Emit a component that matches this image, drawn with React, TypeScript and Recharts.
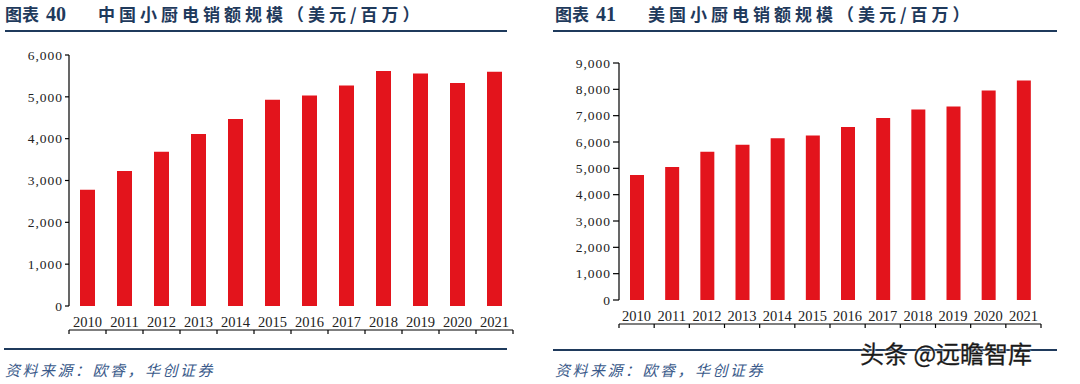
import React from 'react';
import { BarChart, Bar, XAxis, YAxis } from 'recharts';

const years = ['2010', '2011', '2012', '2013', '2014', '2015', '2016', '2017', '2018', '2019', '2020', '2021'];
const chinaSales = [2780, 3230, 3690, 4110, 4470, 4930, 5030, 5270, 5620, 5560, 5330, 5600];
const usSales = [4750, 5050, 5630, 5900, 6140, 6250, 6570, 6910, 7230, 7350, 7960, 8340];
const chinaTicks = [0, 1000, 2000, 3000, 4000, 5000, 6000];
const usTicks = [0, 1000, 2000, 3000, 4000, 5000, 6000, 7000, 8000, 9000];
const edgeTicks = [0, 1, 2, 3, 4, 5, 6, 7, 8, 9, 10, 11, 12];

const chinaTitle = { label: '图表', num: '40', text: '中国小厨电销额规模（美元/百万）' };
const usTitle = { label: '图表', num: '41', text: '美国小厨电销额规模（美元/百万）' };
const sourceText = '资料来源：欧睿，华创证券';
const watermark = '头条 @远瞻智库';

const chinaData = years.map((y, i) => ({ year: y, value: chinaSales[i] }));
const usData = years.map((y, i) => ({ year: y, value: usSales[i] }));

const fmt = (v: number) => v.toLocaleString('en-US');

const SERIF = '"Liberation Serif", "Times New Roman", serif';
const CJK = '"Noto Sans CJK SC", sans-serif';
const NAVY = '#1f3a5c';
const RED = '#e3141c';

const YearTick = (p: any) => (
  <text x={p.x} y={p.y + 21} textAnchor="middle" fontFamily={SERIF} fontSize={14.5} fill="#222">
    {p.payload.value}
  </text>
);

function Panel(props: any) {
  const { data, ticks, max, left, margin, barSize, ySize } = props;
  return (
    <div style={{ position: 'absolute', left, top: 0 }}>
      <BarChart width={540} height={384} data={data} margin={margin} barCategoryGap={0}>
        <XAxis
          xAxisId="edges"
          type="number"
          dataKey="idx"
          domain={[0, 12]}
          ticks={edgeTicks}
          interval={0}
          height={1}
          tick={() => null}
          tickSize={4}
          tickLine={{ stroke: '#000', strokeWidth: 1.2 }}
          axisLine={{ stroke: '#000', strokeWidth: 1.2 }}
          allowDataOverflow
        />
        <XAxis
          xAxisId="cat"
          dataKey="year"
          interval={0}
          height={24}
          axisLine={false}
          tickLine={false}
          tickSize={0}
          tickMargin={0}
          tick={YearTick}
        />
        <YAxis
          width={60}
          domain={[0, max]}
          ticks={ticks}
          interval={0}
          tickFormatter={fmt}
          tickSize={ySize}
          tickMargin={2}
          tickLine={{ stroke: '#000', strokeWidth: 1.2 }}
          axisLine={{ stroke: '#000', strokeWidth: 1.2 }}
          tick={{ fontFamily: SERIF, fontSize: 13.5, fill: '#222', letterSpacing: 1 }}
        />
        <Bar xAxisId="cat" dataKey="value" fill={RED} barSize={barSize} isAnimationActive={false} />
      </BarChart>
    </div>
  );
}

function Title(props: any) {
  const { x, t } = props;
  const base: any = { position: 'absolute', top: 4, color: NAVY, fontWeight: 700, whiteSpace: 'nowrap', lineHeight: '20px' };
  return (
    <>
      <div style={{ ...base, left: x, fontFamily: CJK, fontSize: 17, letterSpacing: 0 }}>{t.label}</div>
      <div style={{ ...base, left: x + 41, fontFamily: SERIF, fontSize: 20 }}>{t.num}</div>
      <div style={{ ...base, left: x + 93, fontFamily: CJK, fontSize: 17, letterSpacing: 4 }}>{t.text}</div>
    </>
  );
}

export default function App() {
  return (
    <div style={{ position: 'fixed', left: 0, top: 0, width: 1080, height: 384, background: '#fff', overflow: 'hidden' }}>
      <Title x={5} t={chinaTitle} />
      <Title x={555} t={usTitle} />
      <div style={{ position: 'absolute', left: 5, top: 30, width: 502, height: 2, background: NAVY }} />
      <div style={{ position: 'absolute', left: 553, top: 30, width: 504, height: 2, background: NAVY }} />

      <Panel data={chinaData} ticks={chinaTicks} max={6000} left={0}
        margin={{ top: 55, right: 27, bottom: 53, left: 9 }} barSize={15} ySize={4} />
      <Panel data={usData} ticks={usTicks} max={9000} left={540}
        margin={{ top: 63, right: 39, bottom: 59, left: 19 }} barSize={14} ySize={6} />

      <div style={{ position: 'absolute', left: 4, top: 348, width: 503, height: 2, background: NAVY }} />
      <div style={{ position: 'absolute', left: 553, top: 349, width: 504, height: 2, background: NAVY }} />

      <div style={{ position: 'absolute', left: 5, top: 360, fontFamily: CJK, fontStyle: 'italic', fontSize: 15, letterSpacing: 2.5, color: '#3a5a8a', lineHeight: '20px', whiteSpace: 'nowrap' }}>{sourceText}</div>
      <div style={{ position: 'absolute', left: 555, top: 360, fontFamily: CJK, fontStyle: 'italic', fontSize: 15, letterSpacing: 2.5, color: '#3a5a8a', lineHeight: '20px', whiteSpace: 'nowrap' }}>{sourceText}</div>

      <div style={{ position: 'absolute', left: 860, top: 338, fontFamily: CJK, fontSize: 24, color: '#1a1a1a', lineHeight: '30px', whiteSpace: 'nowrap', WebkitTextStroke: '0.3px #1a1a1a', textShadow: '0 0 2px #fff, 0 0 2px #fff' }}>{watermark}</div>
    </div>
  );
}
